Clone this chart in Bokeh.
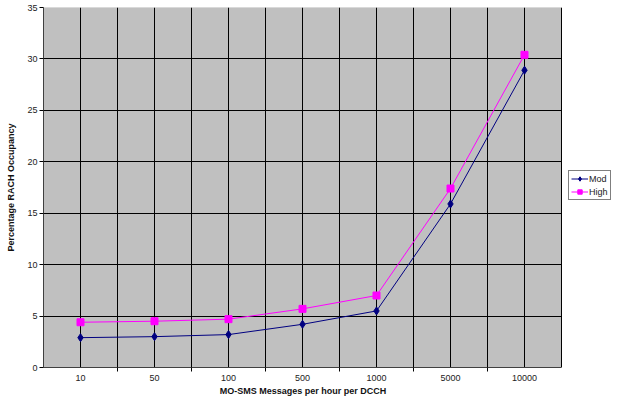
from bokeh.plotting import figure
from bokeh.models import (Range1d, FixedTicker, Legend, LegendItem,
                          BoxAnnotation, Title)
from bokeh.embed import file_html
from bokeh.resources import INLINE

# MO-SMS load per DCCH and the resulting RACH occupancy
categories = ["10", "50", "100", "500", "1000", "5000", "10000"]
mod_values = [2.9, 3.0, 3.2, 4.2, 5.5, 15.9, 28.9]
high_values = [4.4, 4.5, 4.7, 5.7, 7.0, 17.4, 30.4]
y_ticks = [0, 5, 10, 15, 20, 25, 30, 35]

n = len(categories)
# each category sits in the middle of a unit-wide slot
xs = [i + 0.5 for i in range(n)]
boundaries = list(range(1, n + 1))

FONT = "Liberation Sans"
W, H = 617, 404
LEFT, AREA_W = 43, 518          # plotting area in pixels; the rest holds the legend
x_end = n * (W - LEFT) / AREA_W

p = figure(width=W, height=H, output_backend="svg", toolbar_location=None,
           x_range=Range1d(0, x_end), y_range=Range1d(0, 35),
           min_border_left=LEFT, min_border_right=0, min_border_top=7,
           min_border_bottom=37)
p.border_fill_color = "white"
p.background_fill_color = "white"
p.outline_line_color = None

# grey plotting area with its border, drawn beneath the grid
p.add_layout(BoxAnnotation(left=0, right=n, bottom=0, top=35,
                           fill_color="#c0c0c0", fill_alpha=1,
                           line_color="#606060", line_width=1, level="image"))

# x axis: labels at slot centres, tick marks at slot boundaries
p.xaxis.ticker = FixedTicker(ticks=xs, minor_ticks=boundaries[:-1])
p.xaxis.bounds = (0, n)
p.xaxis.major_label_overrides = {x: c for x, c in zip(xs, categories)}
p.xaxis.major_tick_line_color = None
p.xaxis.major_tick_out = 0
p.xaxis.major_tick_in = 0
p.xaxis.minor_tick_line_color = "black"
p.xaxis.minor_tick_out = 4
p.xaxis.minor_tick_in = 0
p.xaxis.major_label_standoff = 3

p.yaxis.ticker = FixedTicker(ticks=y_ticks)
p.yaxis.major_tick_out = 4
p.yaxis.major_tick_in = 0
p.yaxis.minor_tick_line_color = None
p.yaxis.major_label_standoff = 2
p.yaxis.axis_label = "Percentage RACH Occupancy"
p.yaxis.axis_label_standoff = 8
p.yaxis.axis_label_text_font = FONT
p.yaxis.axis_label_text_font_size = "9px"
p.yaxis.axis_label_text_font_style = "bold"
p.yaxis.axis_label_text_color = "#111111"

for ax in (p.xaxis, p.yaxis):
    ax.axis_line_color = "#404040"
    ax.major_label_text_font = FONT
    ax.major_label_text_font_size = "9px"
    ax.major_label_text_color = "#222222"

# x title; trailing no-break spaces keep it centred under the grey area
x_title = "MO-SMS Messages per hour per DCCH" + "\u00a0" * 22
p.add_layout(Title(text=x_title, align="center", standoff=0,
                   text_font=FONT, text_font_size="9px", text_font_style="bold",
                   text_color="#111111"), "below")

# grid lines at both the slot centres and the boundaries
p.xgrid.ticker = FixedTicker(ticks=xs, minor_ticks=boundaries)
p.xgrid.grid_line_color = "black"
p.xgrid.minor_grid_line_color = "black"
p.ygrid.grid_line_color = "black"
p.ygrid.cross_bounds = (0, n)

mod_line = p.line(xs, mod_values, line_color="#000080", line_width=1)
mod_pts = p.scatter(xs, mod_values, marker="diamond", size=8,
                    fill_color="#000080", line_color="#000080")
high_line = p.line(xs, high_values, line_color="#ff00ff", line_width=1)
high_pts = p.scatter(xs, high_values, marker="square", size=7,
                     fill_color="#ff00ff", line_color="#ff00ff")

legend = Legend(items=[LegendItem(label="Mod", renderers=[mod_line, mod_pts]),
                       LegendItem(label="High", renderers=[high_line, high_pts])],
                location=(AREA_W + 7, 167))
legend.label_text_font = FONT
legend.label_text_font_size = "9px"
legend.label_text_color = "#222222"
legend.glyph_width = 17
legend.glyph_height = 11
legend.label_height = 11
legend.label_width = 10
legend.label_standoff = 1
legend.spacing = 2
legend.padding = 2
legend.margin = 0
legend.border_line_color = "black"
legend.border_line_width = 1
legend.background_fill_color = "white"
p.add_layout(legend)

open("out.html", "w").write(file_html(p, INLINE))
